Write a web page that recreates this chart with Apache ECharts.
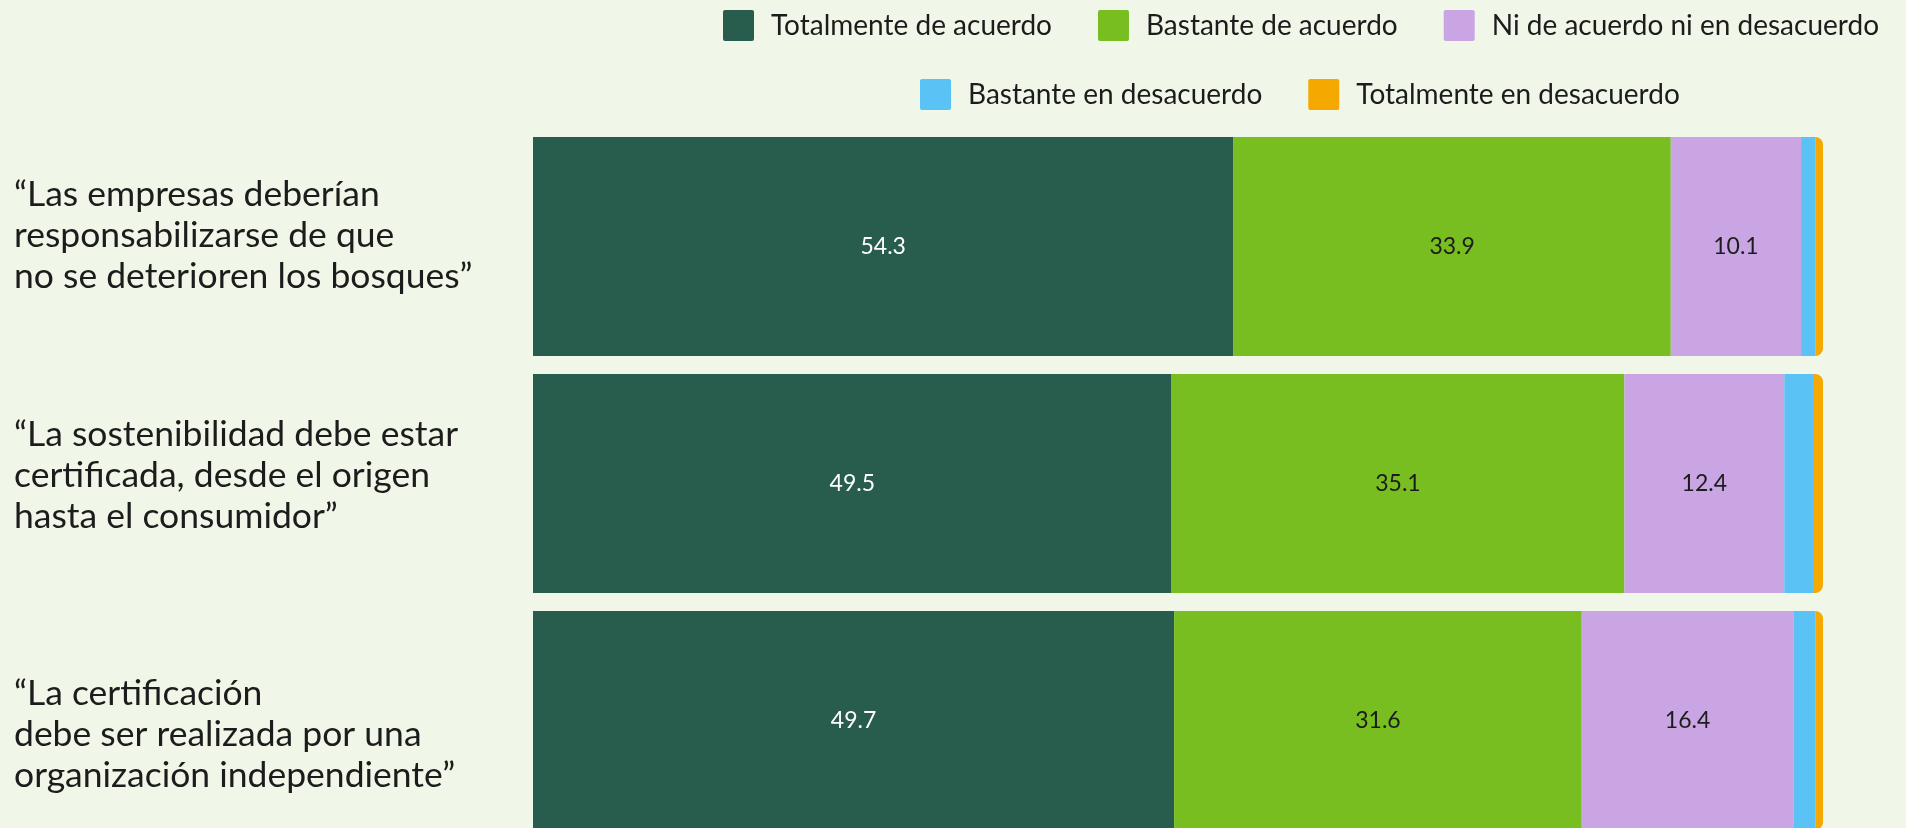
<!DOCTYPE html>
<html>
<head>
<meta charset="utf-8">
<script src="https://cdn.jsdelivr.net/npm/echarts@6/dist/echarts.min.js"></script>
<style>
  html, body { margin: 0; padding: 0; background: #f0f6e8; }
  #chart { width: 1906px; height: 828px; }
</style>
</head>
<body>
<div id="chart"></div>
<script>
const categories = [
  "“Las empresas deberían\nresponsabilizarse de que\nno se deterioren los bosques”",
  "“La sostenibilidad debe estar\ncertificada, desde el origen\nhasta el consumidor”",
  "“La certificación\ndebe ser realizada por una\norganización independiente”"
];
const seriesNames = [
  "Totalmente de acuerdo",
  "Bastante de acuerdo",
  "Ni de acuerdo ni en desacuerdo",
  "Bastante en desacuerdo",
  "Totalmente en desacuerdo"
];
const totalmenteAcuerdo = [54.3, 49.5, 49.7];
const bastanteAcuerdo = [33.9, 35.1, 31.6];
const niAcuerdoNiDesacuerdo = [10.1, 12.4, 16.4];
const bastanteDesacuerdo = [1.1, 2.3, 1.7];
const totalmenteDesacuerdo = [0.6, 0.7, 0.6];

const colors = ['#285c4d', '#78be21', '#c9a5e4', '#5bc2f5', '#f5a800'];
const labelColors = ['#ffffff', '#1c1c1c', '#1c1c1c', null, null];
const seriesData = [totalmenteAcuerdo, bastanteAcuerdo, niAcuerdoNiDesacuerdo, bastanteDesacuerdo, totalmenteDesacuerdo];

const FONT = 'Lato';
const labelShift = ['up1', 'up2', 'down'];

const chart = echarts.init(document.getElementById('chart'));

const series = seriesNames.map((name, i) => ({
  name: name,
  type: 'bar',
  stack: 'total',
  barCategoryGap: '7.6%',
  data: seriesData[i],
  itemStyle: {
    color: colors[i],
    borderRadius: i === 4 ? [0, 8, 8, 0] : 0
  },
  label: {
    show: i < 3,
    position: 'inside',
    color: labelColors[i] || '#1c1c1c',
    fontFamily: FONT,
    fontSize: 23,
    fontWeight: 400,
    textBorderWidth: 0,
    formatter: p => p.value.toFixed(1)
  },
  emphasis: { disabled: true }
}));

const legendCommon = {
  orient: 'horizontal',
  padding: 0,
  itemWidth: 31,
  itemHeight: 31,
  itemGap: 46,
  icon: 'path://M2,0H29A2,2,0,0,1,31,2V29A2,2,0,0,1,29,31H2A2,2,0,0,1,0,29V2A2,2,0,0,1,2,0Z',
  textStyle: {
    fontFamily: FONT,
    fontSize: 28,
    color: '#1c1c1c',
    padding: [0, 0, 0, 12]
  },
  selectedMode: false
};

chart.setOption({
  backgroundColor: '#f0f6e8',
  animation: false,
  legend: [
    Object.assign({}, legendCommon, {
      data: seriesNames.slice(0, 3),
      left: 723,
      top: 10
    }),
    Object.assign({}, legendCommon, {
      data: seriesNames.slice(3),
      left: 920,
      top: 79
    })
  ],
  grid: {
    left: 533,
    right: 83,
    top: 128,
    height: 711,
    containLabel: false,
    outerBoundsMode: 'none'
  },
  xAxis: {
    type: 'value',
    min: 0,
    max: 100,
    show: false
  },
  yAxis: {
    type: 'category',
    inverse: true,
    data: categories,
    axisLine: { show: false },
    axisTick: { show: false },
    splitLine: { show: false },
    axisLabel: {
      align: 'left',
      margin: 519,
      fontFamily: FONT,
      fontSize: 35.5,
      lineHeight: 41,
      color: '#1c1c1c',
      formatter: (value, idx) => {
        const s = labelShift[idx];
        if (s === 'up1' || s === 'up2') return value + '\n{' + s + '| }';
        if (s === 'down') return '{down| }\n' + value;
        return value;
      },
      rich: {
        up1: { lineHeight: 21, fontSize: 8 },
        up2: { lineHeight: 15, fontSize: 8 },
        down: { lineHeight: 28, fontSize: 8 }
      }
    }
  },
  series: series
});
</script>
</body>
</html>
